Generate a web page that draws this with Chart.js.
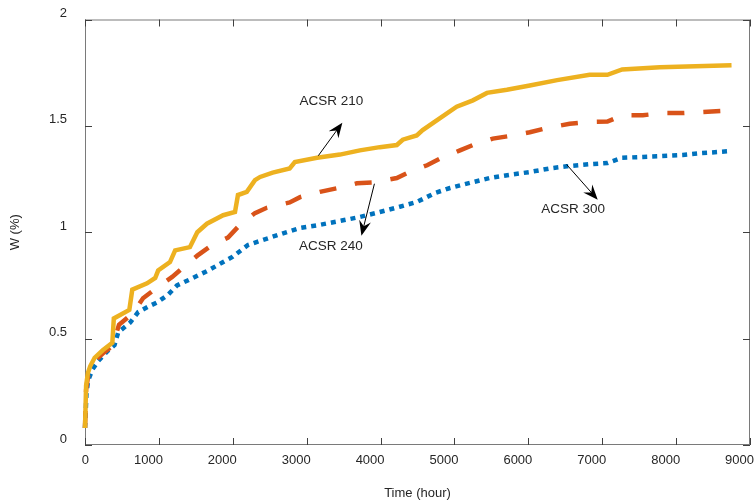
<!DOCTYPE html>
<html lang="en">
<head>
  <meta charset="UTF-8">
  <title>W vs Time</title>
  <script src="https://cdn.jsdelivr.net/npm/chart.js@4.4.1/dist/chart.umd.min.js"></script>
  <style>
    html, body { margin: 0; padding: 0; background: #fff; }
    #wrap { width: 755px; height: 504px; }
  </style>
</head>
<body>
<div id="wrap"><canvas id="lineChart" width="755" height="504"></canvas></div>

<script>
  // ACSR 210 (solid, yellow)
  const hours210 = [0, 15, 40, 70, 130, 240, 370, 390, 600, 640, 840, 950, 990, 1150, 1220, 1420, 1520, 1650, 1870, 2030,
    2070, 2190, 2300, 2370, 2540, 2770, 2840, 3140, 3450, 3720, 3990, 4220, 4300, 4490, 4570, 4800, 5030, 5250, 5440, 5710,
    6020, 6390, 6830, 7070, 7270, 7780, 8750];
  const acsr210 = [0.08, 0.28, 0.34, 0.37, 0.41, 0.445, 0.48, 0.595, 0.635, 0.73, 0.76, 0.785, 0.82, 0.86, 0.915, 0.93, 1.0, 1.04, 1.08, 1.095,
    1.175, 1.19, 1.245, 1.26, 1.28, 1.30, 1.33, 1.35, 1.365, 1.385, 1.40, 1.41, 1.435, 1.455, 1.48, 1.535, 1.59, 1.62, 1.655, 1.67,
    1.69, 1.715, 1.74, 1.74, 1.765, 1.775, 1.785];

  // ACSR 240 (dashed, orange)
  const hours240 = [0, 15, 40, 70, 130, 240, 370, 460, 650, 785, 975, 1180, 1330, 1520, 1720, 1935, 2070, 2300, 2460, 2770,
    2910, 3180, 3450, 3680, 3925, 4220, 4400, 4630, 4800, 5075, 5250, 5520, 5790, 6020, 6250, 6560, 6790, 7070, 7270, 7550,
    7810, 8090, 8350, 8620, 8750];
  const acsr240 = [0.08, 0.26, 0.32, 0.355, 0.395, 0.43, 0.465, 0.565, 0.62, 0.69, 0.74, 0.79, 0.835, 0.89, 0.94, 0.975, 1.025, 1.09, 1.115, 1.14,
    1.165, 1.19, 1.21, 1.23, 1.235, 1.255, 1.285, 1.315, 1.345, 1.385, 1.41, 1.44, 1.455, 1.47, 1.49, 1.51, 1.518, 1.52, 1.55, 1.55,
    1.56, 1.56, 1.565, 1.57, 1.575];

  // ACSR 300 (dotted, blue)
  const hours300 = [0, 20, 40, 100, 180, 300, 400, 450, 610, 720, 855, 975, 1120, 1245, 1460, 1665, 1870, 2000, 2205, 2330,
    2680, 2910, 3180, 3450, 3720, 3990, 4260, 4490, 4740, 4940, 5210, 5480, 5750, 6020, 6290, 6520, 6830, 7070, 7270, 7550,
    7810, 8090, 8350, 8750];
  const acsr300 = [0.08, 0.24, 0.30, 0.355, 0.395, 0.44, 0.47, 0.53, 0.575, 0.625, 0.65, 0.67, 0.705, 0.75, 0.785, 0.82, 0.86, 0.885, 0.94, 0.955,
    0.995, 1.02, 1.035, 1.053, 1.072, 1.095, 1.12, 1.142, 1.185, 1.208, 1.232, 1.255, 1.27, 1.283, 1.30, 1.31, 1.32, 1.325, 1.35, 1.354,
    1.358, 1.363, 1.372, 1.382];

  const xTicks = [0, 1000, 2000, 3000, 4000, 5000, 6000, 7000, 8000, 9000];
  const yTicks = [0, 0.5, 1, 1.5, 2];

  // text annotations with arrows, in data units: label position, arrow tail, arrow tip
  const noteLabels = ['ACSR 210', 'ACSR 240', 'ACSR 300'];
  const noteText = [[3334, 1.615], [3327, 0.933], [6607, 1.106]];
  const noteTail = [[3158, 1.36], [3917, 1.228], [6519, 1.318]];
  const noteTip = [[3483, 1.515], [3741, 0.984], [6939, 1.153]];

  const FONT = '"Liberation Sans", Arial, sans-serif';
  const TXT = '#262626';

  function zip(xs, ys) {
    return xs.map((x, i) => ({ x: x, y: ys[i] }));
  }

  const boxPlugin = {
    id: 'matlabBox',
    beforeDatasetsDraw(chart) {
      const { ctx, chartArea: a, scales } = chart;
      ctx.save();
      ctx.strokeStyle = '#7a7a7a';
      ctx.lineWidth = 1;
      ctx.strokeRect(a.left + 0.5, a.top + 0.5, a.right - a.left - 1, a.bottom - a.top - 1);
      ctx.strokeStyle = '#404040';
      ctx.beginPath();
      xTicks.forEach(v => {
        const px = Math.round(scales.x.getPixelForValue(v)) + 0.5;
        ctx.moveTo(px, a.bottom); ctx.lineTo(px, a.bottom - 7);
        ctx.moveTo(px, a.top); ctx.lineTo(px, a.top + 7);
      });
      yTicks.forEach(v => {
        const py = Math.round(scales.y.getPixelForValue(v)) + 0.5;
        ctx.moveTo(a.left, py); ctx.lineTo(a.left + 7, py);
        ctx.moveTo(a.right, py); ctx.lineTo(a.right - 7, py);
      });
      ctx.stroke();
      ctx.restore();
    },
    afterDatasetsDraw(chart) {
      const { ctx, scales } = chart;
      const px = p => [scales.x.getPixelForValue(p[0]), scales.y.getPixelForValue(p[1])];
      ctx.save();
      ctx.font = '13.5px ' + FONT;
      ctx.textAlign = 'center';
      ctx.textBaseline = 'middle';
      noteLabels.forEach((label, i) => {
        ctx.fillStyle = TXT;
        const t = px(noteText[i]);
        ctx.fillText(label, t[0], t[1]);
        const a = px(noteTail[i]);
        const b = px(noteTip[i]);
        const ang = Math.atan2(b[1] - a[1], b[0] - a[0]);
        const len = 15, half = 6;
        ctx.strokeStyle = '#000';
        ctx.lineWidth = 1;
        ctx.beginPath();
        ctx.moveTo(a[0], a[1]);
        ctx.lineTo(b[0] - Math.cos(ang) * len * 0.6, b[1] - Math.sin(ang) * len * 0.6);
        ctx.stroke();
        // concave arrow head
        const bx = b[0] - Math.cos(ang) * len, by = b[1] - Math.sin(ang) * len;
        const nx = -Math.sin(ang), ny = Math.cos(ang);
        ctx.fillStyle = '#000';
        ctx.beginPath();
        ctx.moveTo(b[0], b[1]);
        ctx.lineTo(bx + nx * half, by + ny * half);
        ctx.lineTo(b[0] - Math.cos(ang) * len * 0.65, b[1] - Math.sin(ang) * len * 0.65);
        ctx.lineTo(bx - nx * half, by - ny * half);
        ctx.closePath();
        ctx.fill();
      });
      ctx.restore();
    }
  };

  function createLineChart(ctx) {
    new Chart(ctx, {
      type: 'line',
      data: {
        datasets: [
          {
            label: 'ACSR 210',
            data: zip(hours210, acsr210),
            borderColor: '#EDB120',
            borderWidth: 4.5,
            pointRadius: 0,
            tension: 0,
            clip: false
          },
          {
            label: 'ACSR 240',
            data: zip(hours240, acsr240),
            borderColor: '#D95319',
            borderWidth: 4.5,
            borderDash: [17, 19],
            pointRadius: 0,
            tension: 0,
            clip: false
          },
          {
            label: 'ACSR 300',
            data: zip(hours300, acsr300),
            borderColor: '#0072BD',
            borderWidth: 4.5,
            borderDash: [5, 5],
            pointRadius: 0,
            tension: 0,
            clip: false
          }
        ]
      },
      options: {
        responsive: false,
        animation: false,
        events: [],
        layout: { padding: { top: 19.5, right: 5, left: 0, bottom: 0 } },
        plugins: {
          legend: { display: false },
          tooltip: { enabled: false }
        },
        scales: {
          x: {
            type: 'linear',
            min: 0,
            max: 9000,
            afterFit: s => { s.height = 59; s.paddingLeft = 0; s.paddingRight = 0; },
            afterBuildTicks: s => { s.ticks = xTicks.map(v => ({ value: v })); },
            grid: { display: false, drawTicks: false },
            border: { display: false },
            ticks: {
              align: 'end',
              labelOffset: 4,
              padding: 8,
              color: TXT,
              font: { family: FONT, size: 13 },
              maxRotation: 0,
              callback: v => String(v)
            },
            title: {
              display: true,
              text: 'Time (hour)',
              color: TXT,
              font: { family: FONT, size: 13 },
              padding: { top: 0, bottom: 3 }
            }
          },
          y: {
            min: 0,
            max: 2,
            afterFit: s => { s.width = 85; s.paddingTop = 0; s.paddingBottom = 0; },
            afterBuildTicks: s => { s.ticks = yTicks.map(v => ({ value: v })); },
            grid: { display: false, drawTicks: false },
            border: { display: false },
            ticks: {
              padding: 18,
              labelOffset: -6,
              color: TXT,
              font: { family: FONT, size: 13 },
              callback: v => String(v)
            },
            title: {
              display: true,
              text: 'W (%)',
              color: TXT,
              font: { family: FONT, size: 13 },
              padding: { top: 8, bottom: 0 }
            }
          }
        }
      },
      plugins: [boxPlugin]
    });
  }

  createLineChart(document.getElementById('lineChart').getContext('2d'));
</script>
</body>
</html>
